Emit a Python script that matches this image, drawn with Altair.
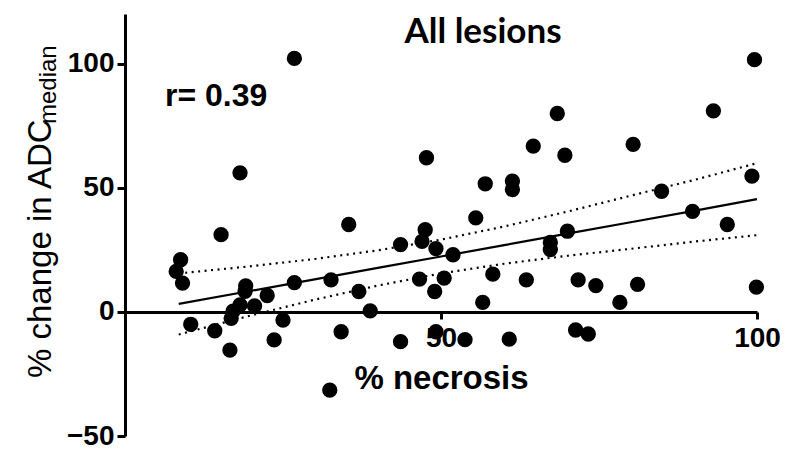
import altair as alt
import pandas as pd

# scatter data (% necrosis, % change in ADC median)
necrosis = [8.8, 8.1, 9.1, 10.4, 14.2, 15.2, 16.6, 16.8, 17.1, 18.2, 18.2, 19.1, 19.0,
            20.5, 22.5, 23.6, 25.0, 26.8, 26.8, 32.6, 32.4, 34.2, 35.4, 37.0, 38.8,
            43.6, 43.6, 47.7, 47.5, 47.0, 46.6, 49.2, 49.0, 49.2, 50.5, 51.9, 53.8,
            55.5, 56.6, 57.0, 58.2, 60.8, 61.3, 61.3, 63.5, 64.6, 67.3, 67.3, 68.4,
            69.6, 70.0, 71.3, 71.7, 73.3, 74.5, 78.3, 80.4, 81.1, 84.9, 89.8, 93.1,
            95.3, 99.2, 99.6, 99.9]
adc_change = [21.0, 16.3, 11.6, -5.0, -7.6, 31.1, -15.4, -2.6, 0.3, 2.8, 56.0, 10.5, 8.3,
              2.4, 6.6, -11.3, -3.3, 11.8, 102.1, 12.9, -31.5, -8.0, 35.2, 8.2, 0.4,
              27.1, -12.0, 62.1, 33.1, 28.4, 13.2, 25.5, 8.2, -8.0, 13.6, 23.0, -11.2,
              37.9, 3.8, 51.6, 15.2, -11.0, 52.7, 49.3, 12.9, 66.8, 28.0, 25.1, 79.9,
              63.1, 32.5, -7.3, 12.9, -8.9, 10.6, 3.8, 67.5, 11.1, 48.6, 40.5, 81.0,
              35.2, 54.7, 101.6, 10.0]

# regression line and 95% confidence band
fit_x = [8.5, 20, 30, 40, 50, 60, 70, 80, 90, 100]
fit_y = [3.2, 8.5, 13.1, 17.7, 22.3, 26.9, 31.5, 36.1, 40.7, 45.4]
band_upper = [15.5, 18.4, 21.3, 24.8, 29.1, 34.4, 40.4, 46.8, 53.1, 59.9]
band_lower = [-9.1, -1.4, 4.9, 10.6, 15.5, 19.4, 22.6, 25.4, 28.3, 30.9]

x_ticks = [50, 100]
y_ticks = [-50, 0, 50, 100]

title_text = "All lesions"
r_text = "r= 0.39"
x_title = "% necrosis"
y_title_main = "% change in ADC"
y_title_sub = "median"

pts = pd.DataFrame({"x": necrosis, "y": adc_change})
fit = pd.DataFrame({"x": fit_x, "y": fit_y, "up": band_upper, "lo": band_lower})

W, H = 632, 422
FONT = "Liberation Sans"

x_enc = alt.X(
    "x:Q",
    scale=alt.Scale(domain=[0, 100], nice=False, zero=False),
    axis=alt.Axis(
        values=x_ticks, title=x_title, offset=-124, grid=False,
        domainColor="black", domainWidth=3, tickColor="black", tickWidth=3, tickSize=7,
        labelFont=FONT, labelFontSize=28, labelFontWeight="bold", labelColor="black",
        labelPadding=5, labelFlush=False,
        titleFont=FONT, titleFontSize=33, titleFontWeight="bold", titleColor="black",
        titlePadding=10,
    ),
)
y_enc = alt.Y(
    "y:Q",
    scale=alt.Scale(domain=[-50, 120], nice=False, zero=False),
    axis=alt.Axis(
        values=y_ticks, title=None, grid=False,
        domainColor="black", domainWidth=3, tickColor="black", tickWidth=3, tickSize=8,
        labelFont=FONT, labelFontSize=28, labelFontWeight="bold", labelColor="black",
        labelPadding=3,
    ),
)

points = alt.Chart(pts).mark_circle(size=235, color="black", opacity=1).encode(x=x_enc, y=y_enc)
fit_line = alt.Chart(fit).mark_line(color="black", strokeWidth=2.2).encode(x=x_enc, y=y_enc)
upper = alt.Chart(fit).mark_line(color="black", strokeWidth=2.2, strokeDash=[2, 4.5]).encode(
    x=x_enc, y=alt.Y("up:Q", scale=alt.Scale(domain=[-50, 120], nice=False, zero=False)))
lower = alt.Chart(fit).mark_line(color="black", strokeWidth=2.2, strokeDash=[2, 4.5]).encode(
    x=x_enc, y=alt.Y("lo:Q", scale=alt.Scale(domain=[-50, 120], nice=False, zero=False)))

lbl = pd.DataFrame({"t": [0]})
title_mark = alt.Chart(lbl).mark_text(
    text=title_text, font="Lato", fontSize=35, fontWeight="bold", color="black",
    align="center", baseline="alphabetic").encode(x=alt.value(358), y=alt.value(29))
r_mark = alt.Chart(lbl).mark_text(
    text=r_text, font=FONT, fontSize=32, fontWeight="bold", color="black",
    align="left", baseline="alphabetic").encode(x=alt.value(40), y=alt.value(92))
ytitle_mark = alt.Chart(lbl).mark_text(
    text=y_title_main, font=FONT, fontSize=33, color="black", angle=270,
    align="left", baseline="alphabetic").encode(x=alt.value(-74), y=alt.value(364))
ysub_mark = alt.Chart(lbl).mark_text(
    text=y_title_sub, font=FONT, fontSize=24, color="black", angle=270,
    align="left", baseline="alphabetic").encode(x=alt.value(-69), y=alt.value(110))

chart = alt.layer(
    upper, lower, fit_line, points, title_mark, r_mark, ytitle_mark, ysub_mark
).properties(
    width=W, height=H,
    autosize=alt.AutoSizeParams(type="none"),
    padding={"left": 125, "top": 14, "right": 29, "bottom": 17},
    background="white",
).configure_view(stroke=None)

chart.save("out.html", embed_options={"renderer": "svg", "actions": False})
